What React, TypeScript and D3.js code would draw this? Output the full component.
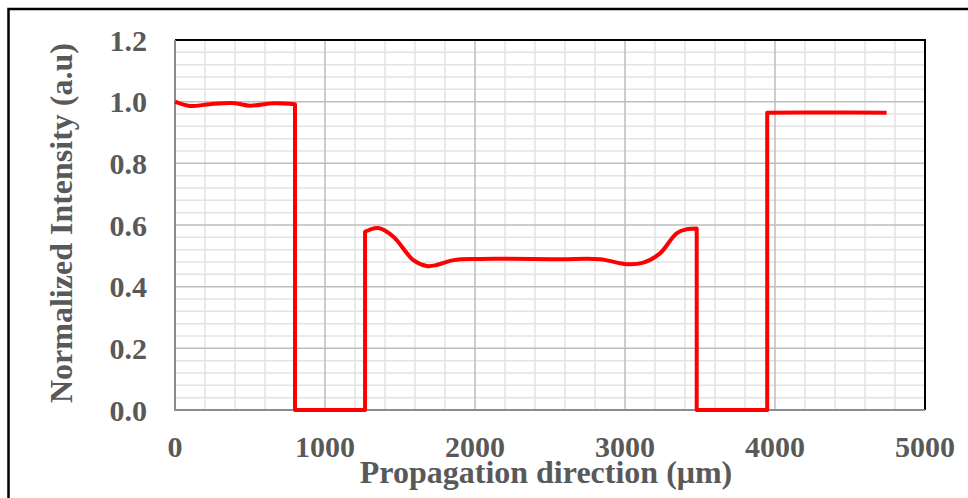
import { useEffect, useRef } from "react";
import * as d3 from "d3";

const WIDTH = 968;
const HEIGHT = 498;
const PLOT = { left: 175, top: 40, right: 925, bottom: 410 };

// three lit stretches of the guide (µm, normalized intensity)
const INPUT_POS = [0, 100, 233, 400, 500, 656, 800];
const INPUT_VAL = [1.0, 0.986, 0.992, 0.995, 0.987, 0.995, 0.992];
const MID_POS = [1267, 1300, 1356, 1456, 1589, 1678, 1744, 1856, 2033, 2567, 2833, 3011, 3122, 3233, 3344, 3411, 3478];
const MID_VAL = [0.578, 0.585, 0.59, 0.562, 0.486, 0.467, 0.47, 0.486, 0.49, 0.489, 0.489, 0.473, 0.478, 0.508, 0.573, 0.586, 0.589];
const OUTPUT_POS = [3948, 4350, 4744];
const OUTPUT_VAL = [0.964, 0.965, 0.964];

const X_TICKS = [0, 1000, 2000, 3000, 4000, 5000];
const Y_TICKS = [0, 0.2, 0.4, 0.6, 0.8, 1.0, 1.2];
const X_TITLE = "Propagation direction (μm)";
const Y_TITLE = "Normalized Intensity (a.u)";

export default function App() {
  const svgRef = useRef<SVGSVGElement | null>(null);

  useEffect(() => {
    const svg = d3.select(svgRef.current);
    svg.selectAll("*").remove();

    const x = d3.scaleLinear().domain([0, 5000]).range([PLOT.left, PLOT.right]);
    const y = d3.scaleLinear().domain([0, 1.2]).range([PLOT.bottom, PLOT.top]);

    svg.append("rect").attr("width", WIDTH).attr("height", HEIGHT).attr("fill", "#ffffff");

    // outer frame, runs off the right and bottom edge
    svg
      .append("rect")
      .attr("x", 8.5)
      .attr("y", 9)
      .attr("width", 1100)
      .attr("height", 700)
      .attr("fill", "none")
      .attr("stroke", "#000")
      .attr("stroke-width", 2.5);

    const grid = svg.append("g");
    const minorX = d3.range(200, 5000, 200).filter((v) => v % 1000 !== 0);
    const minorY = d3.range(1, 30).map((i) => i * 0.04).filter((_, i) => (i + 1) % 5 !== 0);

    const vLine = (v: number, color: string) =>
      grid
        .append("line")
        .attr("x1", x(v))
        .attr("x2", x(v))
        .attr("y1", PLOT.top)
        .attr("y2", PLOT.bottom)
        .attr("stroke", color)
        .attr("stroke-width", 1.5);
    const hLine = (v: number, color: string) =>
      grid
        .append("line")
        .attr("x1", PLOT.left)
        .attr("x2", PLOT.right)
        .attr("y1", y(v))
        .attr("y2", y(v))
        .attr("stroke", color)
        .attr("stroke-width", 1.5);

    minorX.forEach((v) => vLine(v, "#e3e3e3"));
    minorY.forEach((v) => hLine(v, "#e3e3e3"));
    X_TICKS.slice(1, -1).forEach((v) => vLine(v, "#bdbdbd"));
    Y_TICKS.slice(1, -1).forEach((v) => hLine(v, "#bdbdbd"));

    // plot borders: top/right black, left/bottom gray axis lines
    svg
      .append("path")
      .attr("d", `M${PLOT.left},${PLOT.top}H${PLOT.right}V${PLOT.bottom}`)
      .attr("fill", "none")
      .attr("stroke", "#000")
      .attr("stroke-width", 2);
    svg
      .append("path")
      .attr("d", `M${PLOT.left},${PLOT.top}V${PLOT.bottom}H${PLOT.right}`)
      .attr("fill", "none")
      .attr("stroke", "#8c8c8c")
      .attr("stroke-width", 2);

    // smooth stretches joined by sharp vertical drops to zero
    const smooth = d3.line().curve(d3.curveCatmullRom.alpha(0.5));
    const seg = (pos: number[], val: number[]) =>
      smooth(pos.map((p, i) => [x(p), y(val[i])]) as [number, number][]) as string;
    const toL = (d: string) => "L" + d.slice(1);
    const last = (pos: number[]) => pos[pos.length - 1];

    const d =
      seg(INPUT_POS, INPUT_VAL) +
      `L${x(last(INPUT_POS))},${y(0)}L${x(MID_POS[0])},${y(0)}` +
      toL(seg(MID_POS, MID_VAL)) +
      `L${x(last(MID_POS))},${y(0)}L${x(OUTPUT_POS[0])},${y(0)}` +
      toL(seg(OUTPUT_POS, OUTPUT_VAL));

    svg
      .append("path")
      .attr("d", d)
      .attr("fill", "none")
      .attr("stroke", "#ff0000")
      .attr("stroke-width", 4)
      .attr("stroke-linejoin", "round");

    const font = "'Liberation Serif', 'Times New Roman', serif";

    Y_TICKS.forEach((v) => {
      svg
        .append("text")
        .attr("x", 147)
        .attr("y", y(v))
        .attr("dy", "0.35em")
        .attr("text-anchor", "end")
        .attr("font-family", font)
        .attr("font-weight", 700)
        .attr("font-size", 30)
        .attr("fill", "#595959")
        .text(d3.format(".1f")(v));
    });

    X_TICKS.forEach((v) => {
      svg
        .append("text")
        .attr("x", x(v))
        .attr("y", 457)
        .attr("text-anchor", "middle")
        .attr("font-family", font)
        .attr("font-weight", 700)
        .attr("font-size", 30)
        .attr("fill", "#595959")
        .text(String(v));
    });

    svg
      .append("text")
      .attr("x", 546)
      .attr("y", 483)
      .attr("text-anchor", "middle")
      .attr("font-family", font)
      .attr("font-weight", 700)
      .attr("font-size", 32)
      .attr("fill", "#595959")
      .text(X_TITLE);

    svg
      .append("text")
      .attr("transform", `translate(72, 223) rotate(-90)`)
      .attr("text-anchor", "middle")
      .attr("font-family", font)
      .attr("font-weight", 700)
      .attr("font-size", 32)
      .attr("fill", "#595959")
      .text(Y_TITLE);
  }, []);

  return (
    <svg
      ref={svgRef}
      width={WIDTH}
      height={HEIGHT}
      style={{ position: "absolute", left: 0, top: 0 }}
    />
  );
}
